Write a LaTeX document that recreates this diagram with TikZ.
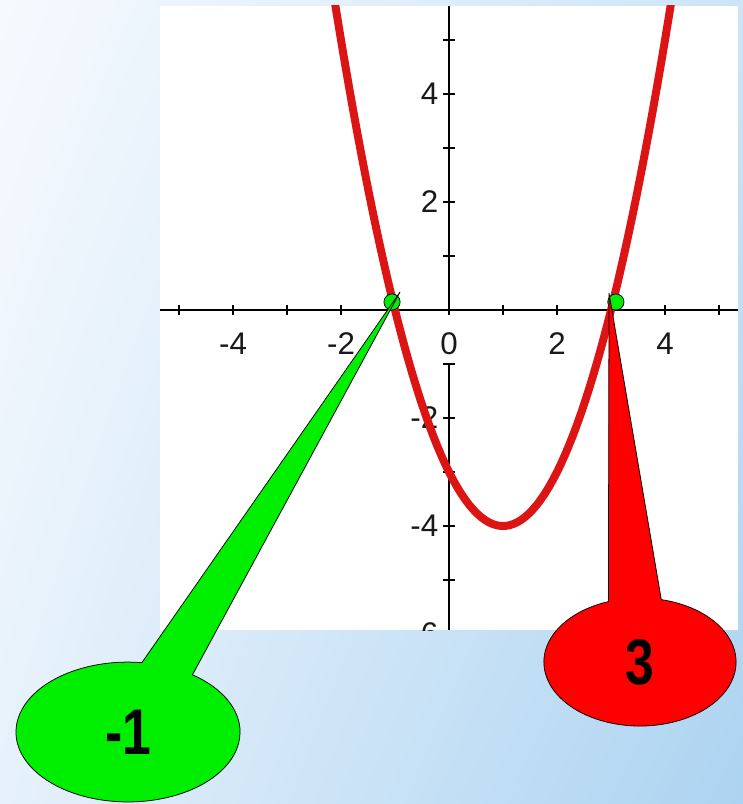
\documentclass[tikz,border=0pt]{standalone}
\usepackage{fontspec}
\setmainfont{Liberation Sans}
\newfontfamily\bubblefont[FakeStretch=0.8]{Liberation Sans}
\usepackage{tikz}
\usetikzlibrary{shapes.callouts,shadings}
\definecolor{curvered}{RGB}{220,20,20}
\definecolor{dotgreen}{RGB}{0,238,0}
\definecolor{bubblered}{RGB}{255,0,0}
\definecolor{bgul}{RGB}{246,250,254}
\definecolor{bgur}{RGB}{205,228,247}
\definecolor{bgll}{RGB}{230,241,251}
\definecolor{bglr}{RGB}{172,211,241}
\definecolor{labelgray}{RGB}{25,25,25}

\begin{document}
\begin{tikzpicture}[semithick,
                    font=\fontsize{16.5}{16.5}\selectfont]
  \tikzstyle{axis}=[line width=1.1pt,black]
  \tikzstyle{curve}=[line width=4.2pt,curvered,line join=round]
  \tikzstyle{ticklabel}=[text=labelgray,inner sep=0pt]
  \tikzstyle{root}=[circle,draw=black,thin,fill=dotgreen,inner sep=0pt,minimum size=0.3cm]
  \tikzstyle{bubble}=[ellipse callout,draw=black,thin,inner sep=0pt,
                      font=\bubblefont\bfseries\fontsize{34}{34}\selectfont]

  \useasboundingbox (-8.315,-9.148) rectangle (5.444,5.741);
  \shade[upper left=bgul,upper right=bgur,lower left=bgll,lower right=bglr]
    (-8.315,-9.148) rectangle (5.444,5.741);
  \fill[white] (-5.352,-5.926) rectangle (5.352,5.63);

  \begin{scope}
    \clip (-5.352,-5.926) rectangle (5.352,5.63);
    \draw[axis] (-5.352,0) -- (5.352,0);
    \draw[axis] (0,5.63) -- (0,-0.1);
    \draw[axis] (0,-1) -- (0,-5.926);
    \foreach \i in {-5,...,5}
      \draw[axis] (\i,-0.09) -- (\i,0.09);
    \foreach \j in {-5,...,-1,1,2,...,5}
      \draw[axis] (-0.11,\j) -- (0.11,\j);
    \foreach \i in {-4,-2,0,2,4}
      \node[ticklabel,anchor=north] (lx\i) at (\i,-0.41) {\i};
    \foreach \j in {-6,-4,-2,2,4}
      \node[ticklabel,anchor=east] (ly\j) at (-0.19,\j) {\j};
    \draw[curve] plot[domain=-2.3:4.3,samples=90] (\x,{\x*\x-2*\x-3});
  \end{scope}

  \node[root] (r1) at (-1.055,0.148) {};
  \node[root] (r2) at (3.09,0.148) {};
  \coordinate (t1) at (-0.907,0.333);
  \coordinate (t2) at (2.963,0.315);

  \node[bubble,fill=dotgreen,minimum width=4.15cm,minimum height=2.59cm,
        callout absolute pointer={(t1)},callout pointer arc=28] (m1) at (-5.944,-7.815) {-1};
  \node[bubble,fill=bubblered,minimum width=3.56cm,minimum height=2.37cm,
        callout absolute pointer={(t2)},callout pointer arc=32] (p3) at (3.537,-6.519) {3};
\end{tikzpicture}
\end{document}
